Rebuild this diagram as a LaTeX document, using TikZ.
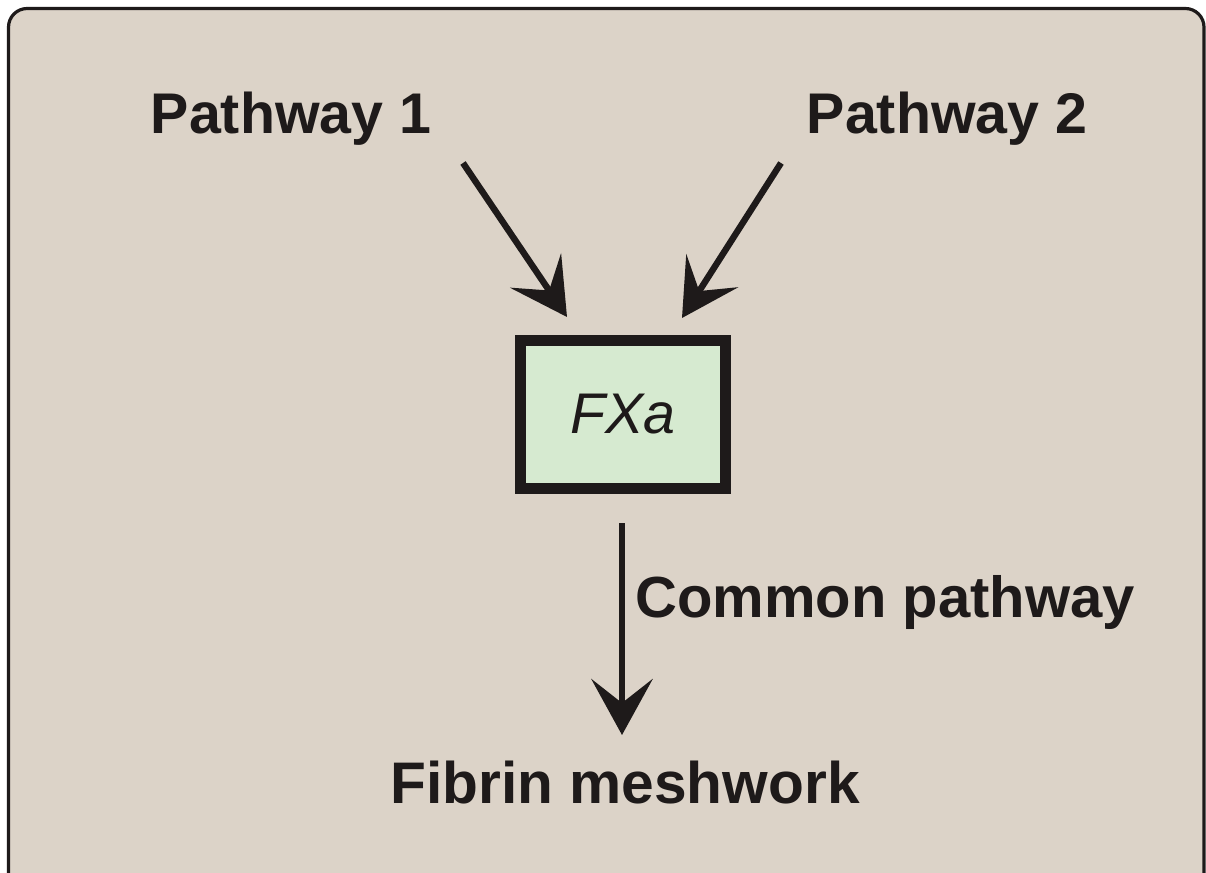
\documentclass[tikz,border=0pt]{standalone}
\usepackage{fontspec}
\setmainfont{Liberation Sans}
\usetikzlibrary{arrows.meta}
\definecolor{bgbeige}{RGB}{220,211,200}
\definecolor{boxgreen}{RGB}{214,234,208}
\definecolor{inkdark}{RGB}{30,26,26}
\tikzset{
  lbl/.style={inner sep=0pt, text=inkdark, font=\fontsize{43}{50}\selectfont\bfseries},
  bigarrow/.style={draw=inkdark, line width=4.8pt,
    -{Stealth[length=42pt, width=46pt, inset=18pt]}},
  fxbox/.style={draw=inkdark, fill=boxgreen, line width=8.8pt, minimum width=153.75pt,
    minimum height=111pt, inner sep=0pt, text=inkdark,
    font=\fontsize{43}{50}\selectfont\itshape}
}
\begin{document}
\begin{tikzpicture}[x=0.75pt, y=-0.75pt]
\useasboundingbox (0,0) rectangle (1206,873);
\fill[white] (0,0) rectangle (1206,873);
\begin{scope}
\clip (0,0) rectangle (1206,873);
\draw[draw=inkdark, fill=bgbeige, line width=2.4pt, rounded corners=14pt]
  (8.5,8.5) rectangle (1204,900);
\end{scope}
% labels
\node[lbl, anchor=base] (p1) at (291,134) {Pathway 1};
\node[lbl, anchor=base] (p2) at (947,134) {Pathway 2};
\node[fxbox] (fxa) at (623,414.5) {FXa};
\node[lbl, anchor=base west, font=\fontsize{43.5}{50}\selectfont\bfseries] (cp) at (635,617) {Common pathway};
\node[lbl, anchor=base, font=\fontsize{44}{50}\selectfont\bfseries] (fib) at (625,803) {Fibrin meshwork};
% connector ends
\coordinate (a1s) at (463,163);
\coordinate (a1e) at (567,317);
\coordinate (a2s) at (781,163);
\coordinate (a2e) at (682,318);
\coordinate (a3s) at (622,523);
\coordinate (a3e) at (622,735);
\draw[bigarrow] (a1s) -- (a1e);
\draw[bigarrow] (a2s) -- (a2e);
\draw[bigarrow] (a3s) -- (a3e);
\end{tikzpicture}
\end{document}
